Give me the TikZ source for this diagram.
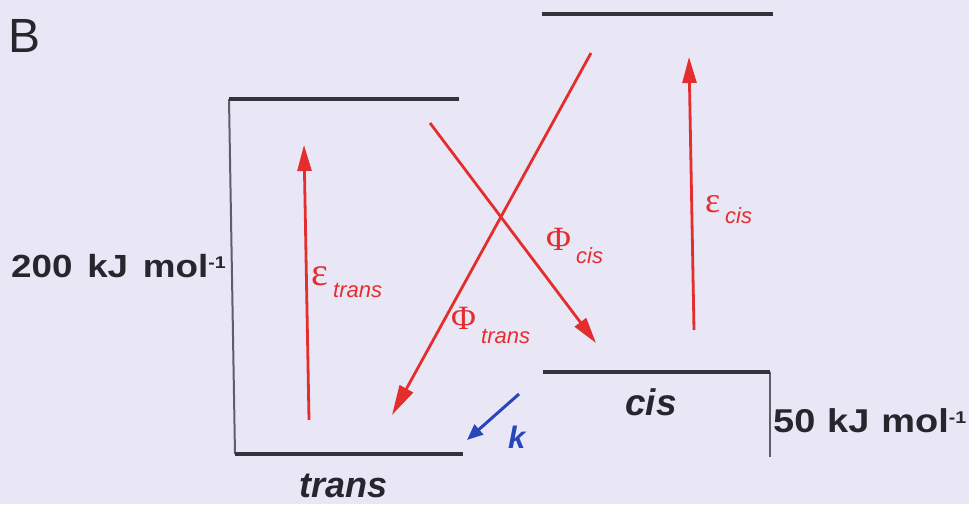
\documentclass[tikz,border=0pt]{standalone}
\usepackage{fontspec}
\setmainfont{Liberation Sans}
\newfontfamily\grk{Liberation Serif}
\newfontfamily\wide[FakeStretch=1.15]{Liberation Sans}
\usetikzlibrary{arrows.meta}
\definecolor{bg}{RGB}{233,231,246}
\definecolor{lvlc}{RGB}{52,50,58}
\definecolor{sidec}{RGB}{95,93,105}
\definecolor{rd}{RGB}{228,46,46}
\definecolor{bl}{RGB}{40,70,185}
\definecolor{txt}{RGB}{40,38,45}
\begin{document}
\begin{tikzpicture}[x=1pt,y=-1pt,
  lvl/.style={draw=lvlc,line width=3.2pt},
  side/.style={draw=sidec,line width=2pt},
  redarr/.style={draw=rd,line width=2.8pt,-{Triangle[length=26pt,width=14pt]}},
  redlong/.style={redarr,-{Triangle[length=30pt,width=15pt]}},
  bluarr/.style={draw=bl,line width=3pt,-{Triangle[length=16pt,width=13pt]}},
  lab/.style={inner sep=0pt,anchor=base west},
  sub/.style={inner sep=0pt,anchor=base west,text=rd,font=\fontsize{22}{22}\selectfont\itshape},
]
\fill[bg] (0,0) rectangle (969,504);
\useasboundingbox (0,0) rectangle (969,504);

% trans levels
\coordinate (tU1) at (229,99);
\coordinate (tU2) at (459,99);
\coordinate (tL1) at (235,454);
\coordinate (tL2) at (463,454);
\draw[side] (tU1) -- (tL1);
\draw[lvl] (tU1) -- (tU2);
\draw[lvl] (tL1) -- (tL2);

% cis levels
\coordinate (cU1) at (542,14);
\coordinate (cU2) at (773,14);
\coordinate (cL1) at (543,372);
\coordinate (cL2) at (770,372);
\coordinate (cR) at (770,457);
\draw[side] (cL2) -- (cR);
\draw[lvl] (cU1) -- (cU2);
\draw[lvl] (cL1) -- (cL2);

% red arrows
\coordinate (et0) at (309,420);
\coordinate (et1) at (304,145);
\coordinate (pt0) at (591,53);
\coordinate (pt1) at (392,415);
\coordinate (pc0) at (430,123);
\coordinate (pc1) at (596,343);
\coordinate (ec0) at (694,330);
\coordinate (ec1) at (689,57);
\draw[redarr] (et0) -- (et1);
\draw[redlong] (pt0) -- (pt1);
\draw[redarr] (pc0) -- (pc1);
\draw[redarr] (ec0) -- (ec1);

% blue arrow
\coordinate (k0) at (519,394);
\coordinate (k1) at (467,440);
\draw[bluarr] (k0) -- (k1);

% labels
\node[lab,text=txt] (B) at (8,52) {\fontsize{48}{48}\selectfont B};
\node[lab,text=txt] (e200) at (11,277) {\wide\bfseries\fontsize{32}{32}\selectfont 200\hspace{0.14em} kJ\hspace{0.14em} mol\raisebox{9pt}{\fontsize{17}{17}\selectfont -1}};
\node[lab,text=txt] (e50) at (773,432) {\wide\bfseries\fontsize{33}{33}\selectfont 50\hspace{0.04em} kJ\hspace{0.04em} mol\raisebox{9pt}{\fontsize{17}{17}\selectfont -1}};
\node[lab,text=txt] (cis) at (625,415) {\bfseries\itshape\fontsize{37}{37}\selectfont cis};
\node[lab,text=txt] (trans) at (299,497) {\bfseries\itshape\fontsize{36}{36}\selectfont trans};
\node[lab,text=bl] (k) at (508,448) {\bfseries\itshape\fontsize{31}{31}\selectfont k};

\node[lab,text=rd] (eT) at (311,285) {\grk\fontsize{40}{40}\selectfont ε};
\node[sub] (eTs) at (333,297) {trans};
\node[lab,text=rd] (eC) at (705,212) {\grk\fontsize{36}{36}\selectfont ε};
\node[sub] (eCs) at (725,223) {cis};
\node[lab,text=rd] (pC) at (546,250) {\grk\fontsize{34}{34}\selectfont Φ};
\node[sub] (pCs) at (576,263) {cis};
\node[lab,text=rd] (pT) at (451,329) {\grk\fontsize{34}{34}\selectfont Φ};
\node[sub] (pTs) at (481,343) {trans};
\end{tikzpicture}
\end{document}
